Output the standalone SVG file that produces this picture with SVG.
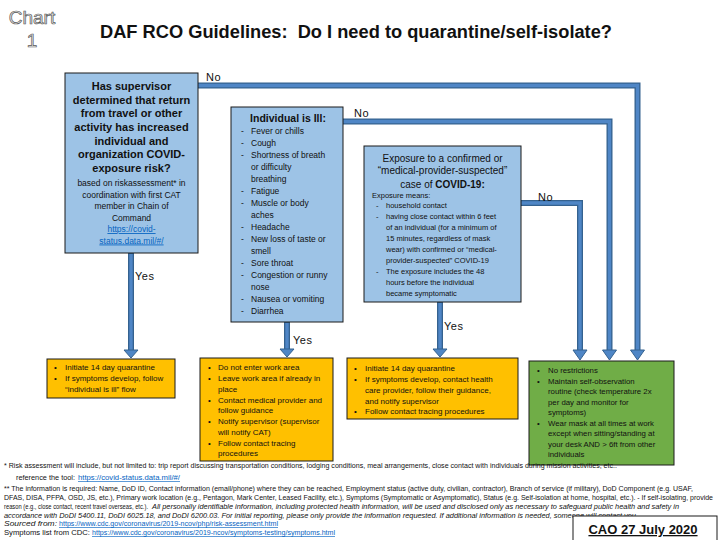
<svg xmlns="http://www.w3.org/2000/svg" width="720" height="540" viewBox="0 0 720 540">
<style>
.t{font-family:"Liberation Sans",Arial,sans-serif;fill:#111}
.b{font-weight:bold}
.c{text-anchor:middle}
.bb{fill:#9dc3e6;stroke:#1a1a1a;stroke-width:1}
.bo{fill:#ffc000;stroke:#1a1a1a;stroke-width:1}
.bg{fill:#70ad47;stroke:#1a1a1a;stroke-width:1}
.co{fill:none;stroke:#35628f;stroke-width:6}
.ci{fill:none;stroke:#4f86c6;stroke-width:3.4}
.ah{fill:#4f86c6;stroke:#35628f;stroke-width:1}
.lab{font-family:"Liberation Sans",Arial,sans-serif;font-size:11px;fill:#111;letter-spacing:0.5px}
.s11{font-size:11px}.s10{font-size:10px}.s85{font-size:8.5px}.s8{font-size:8px}.s75{font-size:7.5px}.s78{font-size:7.8px}
.fn{font-family:"Liberation Sans",Arial,sans-serif;font-size:6.5px;fill:#111}
.it{font-style:italic}
.lk{fill:#0563c1;text-decoration:underline}
.pre{white-space:pre}
.ch{font-family:"Liberation Sans",Arial,sans-serif;font-size:19px;fill:#e8e8e8;stroke:#595959;stroke-width:0.7;text-anchor:middle}
</style>

<g id="header">
<text x="32" y="24" class="ch">Chart</text>
<text x="32" y="47" class="ch">1</text>
<text x="100" y="38" class="t b pre" style="font-size:18px" textLength="512" lengthAdjust="spacingAndGlyphs">DAF RCO Guidelines:  Do I need to quarantine/self-isolate?</text>
</g>

<g id="connectors">
<path class="co" d="M198,85.5 H637.5 V351"/>
<path class="co" d="M343,121.5 H609.5 V351"/>
<path class="co" d="M521,203 H580 V351"/>
<path class="co" d="M131,253 V351"/>
<path class="co" d="M287,322 V350"/>
<path class="co" d="M440,302 V350"/>
<path class="ci" d="M198,85.5 H637.5 V352"/>
<path class="ci" d="M343,121.5 H609.5 V352"/>
<path class="ci" d="M521,203 H580 V352"/>
<path class="ci" d="M131,254 V352"/>
<path class="ci" d="M287,323 V351"/>
<path class="ci" d="M440,303 V351"/>
<polygon class="ah" points="630.5,350 644.5,350 637.5,360"/>
<polygon class="ah" points="602.5,350 616.5,350 609.5,360"/>
<polygon class="ah" points="573,350 587,350 580,360"/>
<polygon class="ah" points="124,350 138,350 131,358"/>
<polygon class="ah" points="280,349 294,349 287,357"/>
<polygon class="ah" points="433,349 447,349 440,357"/>
<text class="lab" x="206" y="81">No</text>
<text class="lab" x="354" y="117">No</text>
<text class="lab" x="538" y="201">No</text>
<text class="lab" x="135" y="280">Yes</text>
<text class="lab" x="293" y="344">Yes</text>
<text class="lab" x="444" y="330">Yes</text>
</g>

<g id="node-supervisor">
<rect class="bb" x="65" y="73" width="133" height="180"/>
<text class="t b c s11" x="131.5" y="90">Has supervisor</text>
<text class="t b c s11" x="131.5" y="103.7">determined that return</text>
<text class="t b c s11" x="131.5" y="117.3">from travel or other</text>
<text class="t b c s11" x="131.5" y="131">activity has increased</text>
<text class="t b c s11" x="131.5" y="144.7">individual and</text>
<text class="t b c s11" x="131.5" y="158.3">organization COVID-</text>
<text class="t b c s11" x="131.5" y="172">exposure risk?</text>
<text class="t c s85" x="131.5" y="186">based on riskassessment* in</text>
<text class="t c s85" x="131.5" y="197.5">coordination with first CAT</text>
<text class="t c s85" x="131.5" y="209">member in Chain of</text>
<text class="t c s85" x="131.5" y="220.5">Command</text>
<text class="t c s85 lk" x="131.5" y="232">https://covid-</text>
<text class="t c s85 lk" x="131.5" y="243.5">status.data.mil/#/</text>
</g>

<g id="node-ill">
<rect class="bb" x="231" y="107" width="112" height="215"/>
<text class="t b c" style="font-size:10.5px" x="288" y="122">Individual is Ill:</text>
<g class="t s85">
<text x="241" y="134">-</text><text x="251" y="134">Fever or chills</text>
<text x="241" y="146">-</text><text x="251" y="146">Cough</text>
<text x="241" y="158">-</text><text x="251" y="158">Shortness of breath</text>
<text x="251" y="170">or difficulty</text>
<text x="251" y="182">breathing</text>
<text x="241" y="194">-</text><text x="251" y="194">Fatigue</text>
<text x="241" y="206">-</text><text x="251" y="206">Muscle or body</text>
<text x="251" y="218">aches</text>
<text x="241" y="230">-</text><text x="251" y="230">Headache</text>
<text x="241" y="242">-</text><text x="251" y="242">New loss of taste or</text>
<text x="251" y="254">smell</text>
<text x="241" y="266">-</text><text x="251" y="266">Sore throat</text>
<text x="241" y="278">-</text><text x="251" y="278">Congestion or runny</text>
<text x="251" y="290">nose</text>
<text x="241" y="302">-</text><text x="251" y="302">Nausea or vomiting</text>
<text x="241" y="314">-</text><text x="251" y="314">Diarrhea</text>
</g>
</g>

<g id="node-exposure">
<rect class="bb" x="364" y="146" width="157" height="156"/>
<text class="t c s10" x="442.5" y="161.5">Exposure to a confirmed or</text>
<text class="t c s10" x="442.5" y="174">“medical-provider-suspected”</text>
<text class="t c s10" x="442.5" y="187.5">case of <tspan class="b">COVID-19:</tspan></text>
<g class="t s75">
<text x="372" y="197.5">Exposure means:</text>
<text x="376" y="207.5">-</text><text x="386" y="207.5">household contact</text>
<text x="376" y="218.5">-</text><text x="386" y="218.5">having close contact within 6 feet</text>
<text x="386" y="229.5">of an individual (for a minimum of</text>
<text x="386" y="240.5">15 minutes, regardless of mask</text>
<text x="386" y="251.5">wear) with confirmed or “medical-</text>
<text x="386" y="262.5">provider-suspected” COVID-19</text>
<text x="376" y="273.5">-</text><text x="386" y="273.5">The exposure includes the 48</text>
<text x="386" y="284.5">hours before the individual</text>
<text x="386" y="295.5">became symptomatic</text>
</g>
</g>

<g id="node-quarantine-follow">
<rect class="bo" x="47" y="359" width="128" height="39"/>
<g class="t s8">
<text x="54" y="370">•</text><text x="65" y="370">Initiate 14 day quarantine</text>
<text x="54" y="381">•</text><text x="65" y="381">If symptoms develop, follow</text>
<text x="65" y="392">“individual is ill” flow</text>
</g>
</g>

<g id="node-ill-actions">
<rect class="bo" x="200" y="358" width="133" height="103"/>
<g class="t s8">
<text x="208" y="370">•</text><text x="218" y="370">Do not enter work area</text>
<text x="208" y="381">•</text><text x="218" y="381">Leave work area if already in</text>
<text x="218" y="392">place</text>
<text x="208" y="402.5">•</text><text x="218" y="402.5">Contact medical provider and</text>
<text x="218" y="413">follow guidance</text>
<text x="208" y="424">•</text><text x="218" y="424">Notify supervisor (supervisor</text>
<text x="218" y="434.5">will notify CAT)</text>
<text x="208" y="445.5">•</text><text x="218" y="445.5">Follow contact tracing</text>
<text x="218" y="456">procedures</text>
</g>
</g>

<g id="node-exposure-actions">
<rect class="bo" x="347" y="358" width="171" height="61"/>
<g class="t s8">
<text x="354" y="371">•</text><text x="365" y="371">Initiate 14 day quarantine</text>
<text x="354" y="382">•</text><text x="365" y="382">If symptoms develop, contact health</text>
<text x="365" y="393">care provider, follow their guidance,</text>
<text x="365" y="403.5">and notify supervisor</text>
<text x="354" y="414">•</text><text x="365" y="414">Follow contact tracing procedures</text>
</g>
</g>

<g id="node-no-restrictions">
<rect class="bg" x="529" y="361" width="145" height="104"/>
<g class="t s78">
<text x="537" y="372.5">•</text><text x="548" y="372.5">No restrictions</text>
<text x="537" y="383.5">•</text><text x="548" y="383.5">Maintain self-observation</text>
<text x="548" y="394">routine (check temperature 2x</text>
<text x="548" y="404.5">per day and monitor for</text>
<text x="548" y="415">symptoms)</text>
<text x="537" y="425.5">•</text><text x="548" y="425.5">Wear mask at all times at work</text>
<text x="548" y="436">except when sitting/standing at</text>
<text x="548" y="446.5">your desk AND &gt; 6ft from other</text>
<text x="548" y="457">individuals</text>
</g>
</g>

<g id="footnotes">
<text class="fn" x="4" y="468" textLength="613" lengthAdjust="spacingAndGlyphs">* Risk assessment will include, but not limited to: trip report discussing transportation conditions, lodging conditions, meal arrangements, close contact with individuals during mission activities, etc..</text>
<text class="fn" x="16" y="480" textLength="59" lengthAdjust="spacingAndGlyphs">reference the tool:</text>
<text class="fn lk" x="78" y="480" textLength="102" lengthAdjust="spacingAndGlyphs">https://covid-status.data.mil/#/</text>
<text class="fn" x="4" y="490.5" textLength="689" lengthAdjust="spacingAndGlyphs">** The information is required: Name, DoD ID, Contact information (email/phone) where they can be reached, Employment status (active duty, civilian, contractor), Branch of service (if military), DoD Component (e.g. USAF,</text>
<text class="fn" x="4" y="499.5" textLength="709" lengthAdjust="spacingAndGlyphs">DFAS, DISA, PFPA, OSD, JS, etc.), Primary work location (e.g., Pentagon, Mark Center, Leased Facility, etc.), Symptoms (Symptomatic or Asymptomatic), Status (e.g. Self-isolation at home, hospital, etc.). - If self-isolating, provide</text>
<text class="fn" x="4" y="508.5" textLength="144" lengthAdjust="spacingAndGlyphs">reason (e.g., close contact, recent travel overseas, etc.).</text>
<text class="fn it" x="152" y="508.5" textLength="527" lengthAdjust="spacingAndGlyphs">All personally identifiable information, including protected health information, will be used and disclosed only as necessary to safeguard public health and safety in</text>
<text class="fn it" x="4" y="517.5" textLength="634" lengthAdjust="spacingAndGlyphs">accordance with DoDI 5400.11, DoDI 6025.18, and DoDI 6200.03. For initial reporting, please only provide the information requested. If additional information is needed, someone will contact you.</text>
<text class="fn it" x="4" y="526" textLength="53" lengthAdjust="spacingAndGlyphs">Sourced from:</text>
<text class="fn lk" x="59" y="526" textLength="219" lengthAdjust="spacingAndGlyphs">https://www.cdc.gov/coronavirus/2019-ncov/php/risk-assessment.html</text>
<text class="fn" x="4" y="535" textLength="86" lengthAdjust="spacingAndGlyphs">Symptoms list from CDC:</text>
<text class="fn lk" x="92" y="535" textLength="243" lengthAdjust="spacingAndGlyphs">https://www.cdc.gov/coronavirus/2019-ncov/symptoms-testing/symptoms.html</text>
</g>

<g id="node-cao">
<rect x="573" y="516" width="144" height="30" fill="#ffffff" stroke="#1a1a1a" stroke-width="1"/>
<text class="t b c" style="font-size:13px;text-decoration:underline" x="643" y="534">CAO 27 July 2020</text>
</g>
</svg>
